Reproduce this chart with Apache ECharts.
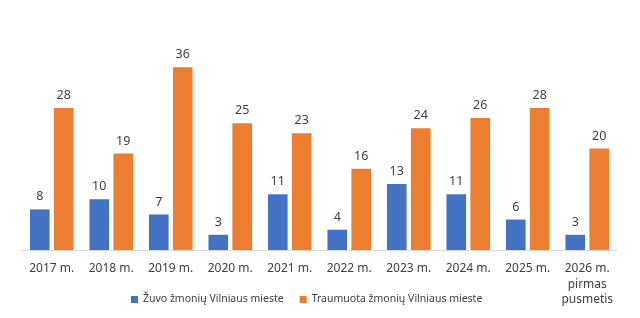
<!DOCTYPE html>
<html>
<head>
<meta charset="utf-8">
<script src="https://cdn.jsdelivr.net/npm/echarts@6/dist/echarts.min.js"></script>
<style>
  html, body { margin: 0; padding: 0; background: #fff; }
  #chart { width: 640px; height: 318px; }
</style>
</head>
<body>
<div id="chart"></div>
<script>
  // metai
  var years = ['2017 m.', '2018 m.', '2019 m.', '2020 m.', '2021 m.', '2022 m.', '2023 m.', '2024 m.', '2025 m.', '2026 m.\npirmas\npusmetis'];
  var killed = [8, 10, 7, 3, 11, 4, 13, 11, 6, 3];
  var injured = [28, 19, 36, 25, 23, 16, 24, 26, 28, 20];

  var font = 'Noto Sans';
  var chart = echarts.init(document.getElementById('chart'));

  var label = {
    show: true,
    position: 'top',
    distance: 6,
    color: '#404040',
    fontFamily: font,
    fontSize: 12.5
  };

  chart.setOption({
    animation: false,
    grid: { left: 22, right: 23, top: 47, bottom: 68 },
    legend: {
      bottom: 8,
      left: 126,
      itemWidth: 7,
      itemHeight: 7,
      itemGap: 16,
      icon: 'rect',
      textStyle: { color: '#404040', fontFamily: font, fontSize: 10.5 },
      data: ['Žuvo žmonių Vilniaus mieste', 'Traumuota žmonių Vilniaus mieste']
    },
    xAxis: {
      type: 'category',
      data: years,
      axisLine: { lineStyle: { color: '#d9d9d9', width: 1 } },
      axisTick: { show: false },
      axisLabel: {
        color: '#404040',
        fontFamily: font,
        fontSize: 12,
        margin: 11,
        lineHeight: 15.5,
        interval: 0
      }
    },
    yAxis: {
      type: 'value',
      min: 0,
      max: 40,
      show: false,
      splitLine: { show: false }
    },
    series: [
      {
        name: 'Žuvo žmonių Vilniaus mieste',
        type: 'bar',
        data: killed,
        barWidth: '33%',
        barGap: '22%',
        itemStyle: { color: '#4472C4' },
        label: label
      },
      {
        name: 'Traumuota žmonių Vilniaus mieste',
        type: 'bar',
        data: injured,
        barWidth: '33%',
        itemStyle: { color: '#ED7D31' },
        label: label
      }
    ]
  });
</script>
</body>
</html>
